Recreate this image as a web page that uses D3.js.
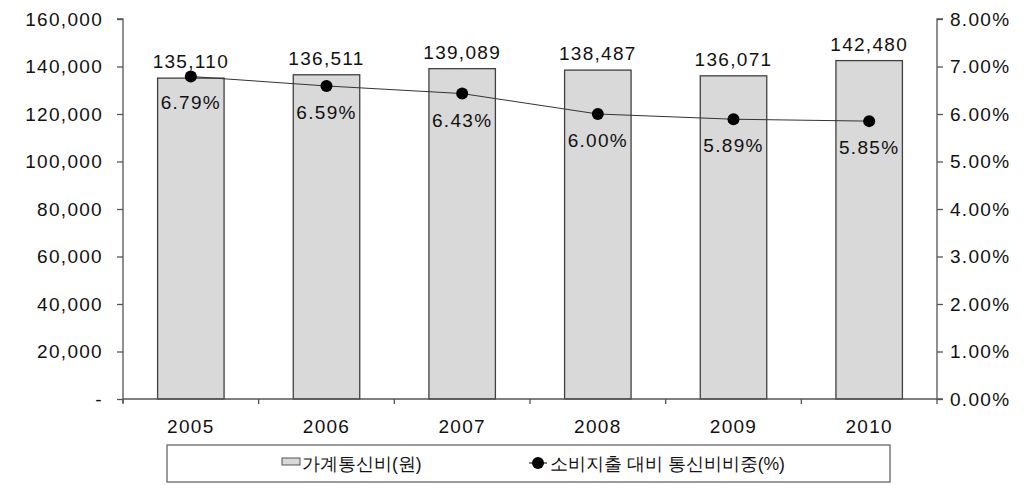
<!DOCTYPE html>
<html><head><meta charset="utf-8">
<script src="https://cdn.jsdelivr.net/npm/d3@7"></script>
<style>
html,body{margin:0;padding:0;background:#fff;}
svg text{font-family:"Liberation Sans",sans-serif;fill:#111;}
</style></head>
<body>
<svg id="chart" width="1024" height="485"></svg>
<script>
const years = ["2005","2006","2007","2008","2009","2010"];
const spending = [135110,136511,139089,138487,136071,142480];
const share = [6.79,6.59,6.43,6.00,5.89,5.85];
const leftTicks = [0,20000,40000,60000,80000,100000,120000,140000,160000];
const rightTicks = [0,1,2,3,4,5,6,7,8];
const legendLabels = ["가계통신비(원)","소비지출 대비 통신비비중(%)"];

const svg = d3.select("#chart");
const L = 123, R = 937, T = 19, B = 399;
const x = d3.scaleBand().domain(years).range([L,R]).paddingInner(0.51).paddingOuter(0.255);
const band = d3.scaleBand().domain(years).range([L,R]);
const y = d3.scaleLinear().domain([0,160000]).range([B,T]);
const y2 = d3.scaleLinear().domain([0,8]).range([B,T]);
const axisColor = "#555";
const fs = 19, ls = 1.3, ff = "Liberation Sans";

// bars
svg.selectAll("rect.bar").data(years).join("rect")
  .attr("x", d=>x(d)).attr("width", x.bandwidth())
  .attr("y", (d,i)=>y(spending[i])).attr("height",(d,i)=>B-y(spending[i]))
  .attr("fill","#d9d9d9").attr("stroke","#404040").attr("stroke-width",1.3);

// left axis
const gL = svg.append("g").attr("transform",`translate(${L},0)`)
  .call(d3.axisLeft(y).tickValues(leftTicks).tickSize(6).tickPadding(14)
    .tickFormat(d=> d===0 ? "-" : d3.format(",")(d)));
// right axis
const gR = svg.append("g").attr("transform",`translate(${R},0)`)
  .call(d3.axisRight(y2).tickValues(rightTicks).tickSize(6).tickPadding(7)
    .tickFormat(d=>d3.format(".2f")(d)+"%"));
// bottom axis
const gB = svg.append("g").attr("transform",`translate(0,${B})`)
  .call(d3.axisBottom(band).tickSize(0).tickPadding(22));
[gL,gR,gB].forEach(g=>{
  g.select(".domain").attr("stroke",axisColor).attr("stroke-width",1.3);
  g.selectAll(".tick line").attr("stroke",axisColor).attr("stroke-width",1.3);
  g.selectAll("text").attr("font-size",fs).attr("font-family",ff).attr("letter-spacing",ls).attr("fill","#111");
});
gL.select(".domain").attr("d",`M-6,${T}H0V${B+4}`);
gR.select(".domain").attr("d",`M6,${T}H0V${B}H6`);
gB.select(".domain").attr("d",`M${L},0H${R}`);
gB.selectAll(".tick text").attr("dy","0.71em").attr("y",21);
// x category boundary ticks
svg.selectAll("line.xt").data(d3.range(years.length+1)).join("line")
  .attr("x1",i=>L+band.step()*i).attr("x2",i=>L+band.step()*i)
  .attr("y1",B).attr("y2",B+5).attr("stroke",axisColor).attr("stroke-width",1.3);

// bar value labels
svg.selectAll("text.val").data(years).join("text")
  .attr("x",d=>x(d)+x.bandwidth()/2).attr("y",(d,i)=>y(spending[i])-10)
  .attr("text-anchor","middle").attr("font-size",fs).attr("letter-spacing",ls)
  .text((d,i)=>d3.format(",")(spending[i]));

// line
const line = d3.line().x((d,i)=>band(years[i])+band.bandwidth()/2).y(d=>y2(d));
svg.append("path").attr("d",line(share)).attr("fill","none").attr("stroke","#333").attr("stroke-width",1);
svg.selectAll("circle.pt").data(share).join("circle")
  .attr("cx",(d,i)=>band(years[i])+band.bandwidth()/2).attr("cy",d=>y2(d)).attr("r",6).attr("fill","#000");
svg.selectAll("text.pct").data(share).join("text")
  .attr("x",(d,i)=>band(years[i])+band.bandwidth()/2).attr("y",d=>y2(d)+33)
  .attr("text-anchor","middle").attr("font-size",fs).attr("letter-spacing",ls)
  .text(d=>d3.format(".2f")(d)+"%");

// legend
svg.append("rect").attr("x",167).attr("y",445).attr("width",723).attr("height",37)
  .attr("fill","#fff").attr("stroke","#666").attr("stroke-width",1.3);
svg.append("rect").attr("x",282).attr("y",458).attr("width",18).attr("height",7)
  .attr("fill","#d9d9d9").attr("stroke","#555").attr("stroke-width",1);
svg.append("text").attr("x",302).attr("y",470).attr("font-size",17.5)
  .attr("font-family","Noto Sans CJK KR").text(legendLabels[0]);
svg.append("line").attr("x1",529).attr("x2",547).attr("y1",463).attr("y2",463).attr("stroke","#000").attr("stroke-width",1);
svg.append("circle").attr("cx",538).attr("cy",463).attr("r",6).attr("fill","#000");
svg.append("text").attr("x",550).attr("y",470).attr("font-size",17.5)
  .attr("font-family","Noto Sans CJK KR").text(legendLabels[1]);
</script>
</body></html>
